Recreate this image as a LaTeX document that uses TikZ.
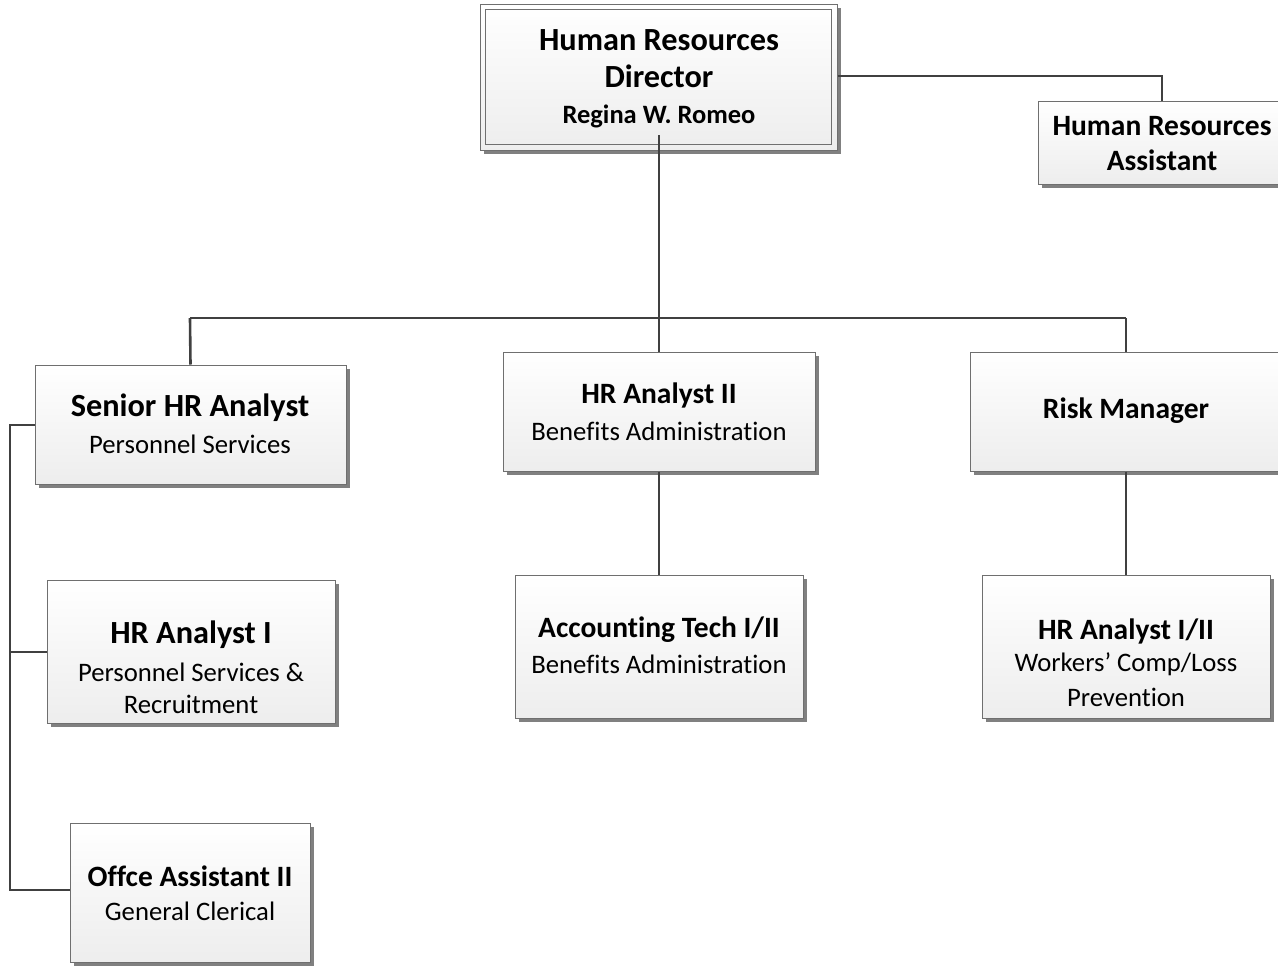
\documentclass[tikz,border=0pt]{standalone}
\usepackage{fontspec}
\setmainfont{Carlito}[Ligatures=NoCommon]
\usetikzlibrary{shadows}
\definecolor{boxline}{HTML}{6F6F6F}
\definecolor{wire}{HTML}{404040}
\definecolor{shade}{HTML}{808080}
\tikzset{
  box/.style={rectangle, draw=boxline, line width=1pt, top color=white, bottom color=black!7,
    drop shadow={shadow xshift=4pt, shadow yshift=-4pt, opacity=1, fill=shade},
    inner sep=0pt},
  wireline/.style={draw=wire, line width=2.6pt},
  title/.style={font=\bfseries\fontsize{29.5}{34}\selectfont, inner sep=0pt},
  bigtitle/.style={font=\bfseries\fontsize{32.3}{36}\selectfont, inner sep=0pt},
  sub/.style={font=\fontsize{26.7}{30}\selectfont, inner sep=0pt},
}
\newcommand{\boxat}[5]{% name, x1, y1, x2, y2
  \node[box, minimum width=#4pt-#2pt, minimum height=#5pt-#3pt] (#1) at ({(#2+#4)/2},{(#3+#5)/2}) {};}
\begin{document}
\begin{tikzpicture}[x=1pt,y=-1pt]
\useasboundingbox (0,0) rectangle (1278,967);
\clip (0,0) rectangle (1278,967);

% junction points of the connectors
\coordinate (dirdrop) at (659,135);
\coordinate (busL) at (190,318);
\coordinate (busR) at (1126,318);
\coordinate (busM) at (659,318);
\coordinate (spineTop) at (10,425);
\coordinate (spineMid) at (10,652);
\coordinate (spineBot) at (10,890);
\coordinate (astCorner) at (1162,76);

% boxes
\boxat{dir}{480}{4}{837}{150}
\draw[boxline, line width=1pt] ([shift={(6pt,-6pt)}]dir.north west) rectangle ([shift={(-6pt,6pt)}]dir.south east);
\boxat{ast}{1038}{101}{1286}{184}
\boxat{sen}{35}{365}{346}{484}
\boxat{an2}{503}{352}{815}{471}
\boxat{risk}{970}{352}{1282}{471}
\boxat{an1}{47}{580}{335}{723}
\boxat{acc}{515}{575}{803}{718}
\boxat{an12}{982}{575}{1270}{718}
\boxat{off}{70}{823}{310}{962}

% connectors
\draw[wireline] (dirdrop) -- (busM);
\draw[wireline] (busM) -- (an2.north);
\draw[wireline] (busL) -- (busR);
\draw[wireline] (busL) -- (sen.north);
\draw[wireline] (busR) -- (risk.north);
\draw[wireline] (dir.east |- astCorner) -- (astCorner) -- (ast.north);
\draw[wireline] (an2.south) -- (acc.north);
\draw[wireline] (risk.south) -- (an12.north);
\draw[wireline] (sen.west |- spineTop) -- (spineTop) -- (spineBot) -- (off.west |- spineBot);
\draw[wireline] (spineMid) -- (an1.west |- spineMid);

% texts
\node[bigtitle] (t1) at (659,40) {Human Resources};
\node[bigtitle] (t2) at (659,76) {Director};
\node[title, font=\bfseries\fontsize{26.5}{30}\selectfont] (t3) at (659,116) {Regina W. Romeo};

\node[title] (t4) at (1162,126) {Human Resources};
\node[title] (t5) at (1162,160) {Assistant};

\node[bigtitle] (t6) at (190,408) {Senior HR Analyst};
\node[sub] (t7) at (190,444) {Personnel Services};

\node[title] (t8) at (659,395) {HR Analyst II};
\node[sub] (t9) at (659,431) {Benefits Administration};

\node[title] (t10) at (1126,411) {Risk Manager};

\node[bigtitle] (t11) at (191,635) {HR Analyst I};
\node[sub] (t12) at (191,672) {Personnel Services \&};
\node[sub] (t13) at (191,704) {Recruitment};

\node[title] (t14) at (659,630) {Accounting Tech I/II};
\node[sub] (t15) at (659,664) {Benefits Administration};

\node[title] (t16) at (1126,631) {HR Analyst I/II};
\node[sub] (t17) at (1126,664) {Workers’ Comp/Loss};
\node[sub] (t18) at (1126,697) {Prevention};

\node[title] (t19) at (190,876) {Offce Assistant II};
\node[sub] (t20) at (190,911) {General Clerical};
\end{tikzpicture}
\end{document}
